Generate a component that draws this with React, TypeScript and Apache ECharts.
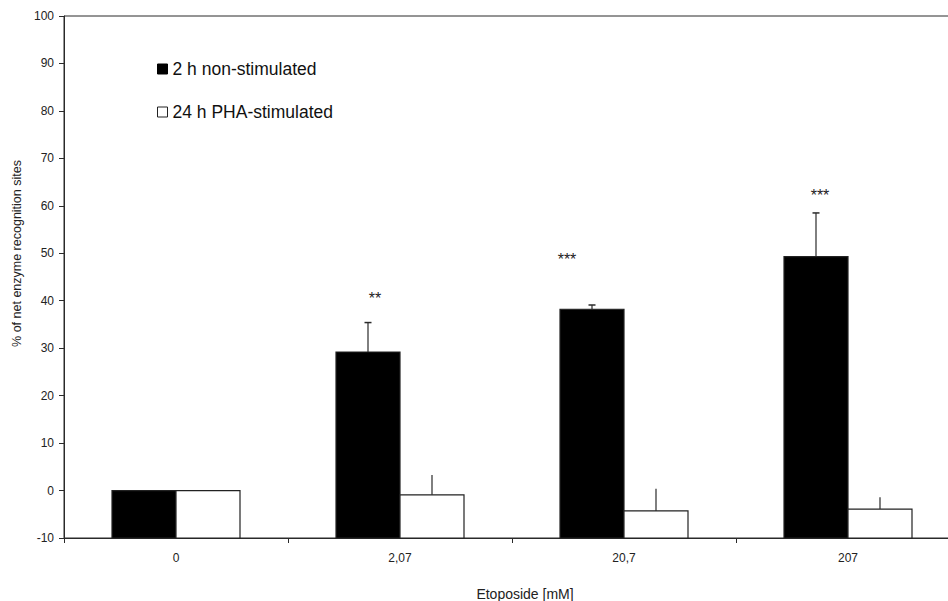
import React, { useEffect, useRef } from "react";
import * as echarts from "echarts";

const categories = ["0", "2,07", "20,7", "207"];
const nonStimulated = [0, 29.2, 38.2, 49.3];
const nonStimulatedErr = [0, 6.2, 0.9, 9.2];
const phaStimulated = [0, -0.9, -4.3, -3.9];
const phaStimulatedErr = [0, 4.2, 4.7, 2.5];
const significance = ["", "**", "***", "***"];
const significanceY = [0, 40.4, 48.6, 62.1];
const seriesNames = ["2 h non-stimulated", "24 h PHA-stimulated"];
const yTicks = { min: -10, max: 100, step: 10 };

const FONT = '"Liberation Sans", Arial, sans-serif';
const BAR_W = 64;
const INK = "#2a2a2a";

export default function App() {
  const ref = useRef<HTMLDivElement>(null);

  useEffect(() => {
    document.body.style.margin = "0";
    if (!ref.current) return;
    const chart = echarts.init(ref.current, undefined, { renderer: "svg" });

    const errData = (vals: number[], errs: number[]) =>
      vals.map((v, i) => [i, v, v + errs[i], errs[i]]);

    const makeBar = (offset: number, fill: string, stroke: string) => (params: any, api: any) => {
      const base = api.coord([api.value(0), yTicks.min]);
      const top = api.coord([api.value(0), api.value(1)]);
      const x0 = base[0] + offset - BAR_W / 2;
      return {
        type: "rect",
        shape: { x: x0, y: top[1], width: BAR_W, height: base[1] - top[1] },
        style: { fill, stroke, lineWidth: 1.2 },
      };
    };

    const makeErr = (offset: number, cap: boolean) => (params: any, api: any) => {
      const e = api.value(3);
      if (!e) return null;
      const base = api.coord([api.value(0), api.value(1)]);
      const top = api.coord([api.value(0), api.value(2)]);
      const x = base[0] + offset;
      const children: any[] = [
        {
          type: "line",
          shape: { x1: x, y1: base[1], x2: x, y2: top[1] },
          style: { stroke: INK, lineWidth: 1.2 },
        },
      ];
      if (cap) {
        children.push({
          type: "line",
          shape: { x1: x - 3.5, y1: top[1], x2: x + 3.5, y2: top[1] },
          style: { stroke: INK, lineWidth: 1.5 },
        });
      }
      return { type: "group", children };
    };

    const asteriskDx = [0, 7, -25, 4];

    const option: any = {
      animation: false,
      backgroundColor: "#ffffff",
      textStyle: { fontFamily: FONT },
      grid: {
        left: 64,
        top: 16,
        right: 0,
        bottom: 63,
        show: true,
        borderColor: INK,
        borderWidth: 1,
        containLabel: false,
        outerBoundsMode: "none",
      },
      legend: {
        left: 157,
        top: 60,
        padding: 0,
        orient: "vertical",
        icon: "rect",
        itemWidth: 10,
        itemHeight: 10,
        itemGap: 25,
        data: [
          { name: seriesNames[0], itemStyle: { color: "#000000", borderColor: "#000", borderWidth: 1 } },
          { name: seriesNames[1], itemStyle: { color: "#ffffff", borderColor: "#222", borderWidth: 1 } },
        ],
        textStyle: { fontSize: 17.5, color: "#111", fontFamily: FONT, lineHeight: 18 },
      },
      xAxis: {
        type: "category",
        data: categories,
        name: "Etoposide [mM]",
        nameLocation: "middle",
        nameGap: 49,
        nameTextStyle: { fontSize: 14, color: "#222", fontFamily: FONT, padding: [0, 0, 0, 26] },
        axisLine: { onZero: false, lineStyle: { color: INK, width: 1 } },
        axisTick: { show: true, length: 5, lineStyle: { color: INK } },
        axisLabel: { fontSize: 12, color: "#222", margin: 14, fontFamily: FONT },
        splitLine: { show: false },
      },
      yAxis: {
        type: "value",
        min: yTicks.min,
        max: yTicks.max,
        interval: yTicks.step,
        name: "% of net enzyme recognition sites",
        nameLocation: "middle",
        nameGap: 40,
        nameTextStyle: { fontSize: 12.5, color: "#222", fontFamily: FONT, padding: [0, 0, 0, 47] },
        axisLine: { show: true, lineStyle: { color: INK, width: 1 } },
        axisTick: { show: true, length: 5, lineStyle: { color: INK } },
        axisLabel: { fontSize: 12, color: "#222", margin: 10, fontFamily: FONT },
        splitLine: { show: false },
      },
      series: [
        {
          name: seriesNames[0],
          type: "custom",
          data: nonStimulated.map((v, i) => [i, v]),
          itemStyle: { color: "#000000", borderColor: "#000", borderWidth: 1 },
          renderItem: makeBar(-BAR_W / 2, "#000000", "#222"),
          z: 3,
          silent: true,
        },
        {
          name: seriesNames[1],
          type: "custom",
          data: phaStimulated.map((v, i) => [i, v]),
          itemStyle: { color: "#ffffff", borderColor: "#222", borderWidth: 1 },
          renderItem: makeBar(BAR_W / 2, "#ffffff", "#222"),
          z: 3,
          silent: true,
        },
        {
          type: "custom",
          data: errData(nonStimulated, nonStimulatedErr),
          renderItem: makeErr(-BAR_W / 2, true),
          z: 5,
          silent: true,
        },
        {
          type: "custom",
          data: errData(phaStimulated, phaStimulatedErr),
          renderItem: makeErr(BAR_W / 2, false),
          z: 5,
          silent: true,
        },
        {
          type: "custom",
          data: significance.map((s, i) => [i, significanceY[i]]),
          renderItem: (params: any, api: any) => {
            const i = params.dataIndex;
            const label = significance[i];
            if (!label) return null;
            const p = api.coord([api.value(0), api.value(1)]);
            return {
              type: "text",
              x: p[0] - BAR_W / 2 + asteriskDx[i],
              y: p[1],
              style: {
                text: label,
                fontSize: 16,
                fontFamily: FONT,
                fill: "#222",
                align: "center",
                verticalAlign: "middle",
              },
            };
          },
          z: 6,
          silent: true,
        },
      ],
    };

    chart.setOption(option);
    return () => chart.dispose();
  }, []);

  return (
    <div
      style={{
        position: "fixed",
        left: 0,
        top: 0,
        width: 948,
        height: 601,
        overflow: "hidden",
        background: "#fff",
      }}
    >
      <div ref={ref} style={{ width: 960, height: 601 }} />
    </div>
  );
}
